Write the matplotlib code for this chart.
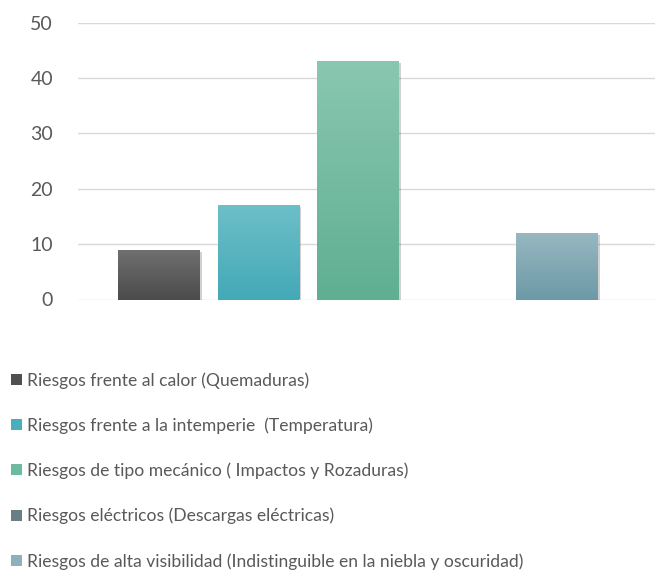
import numpy as np
import matplotlib
matplotlib.use("Agg")
import matplotlib.pyplot as plt
from matplotlib.colors import LinearSegmentedColormap
from matplotlib.patches import Patch
import matplotlib.patheffects as pe

plt.rcParams['font.family'] = ['Lato', 'DejaVu Sans']

labels = [
    "Riesgos frente al calor (Quemaduras)",
    "Riesgos frente a la intemperie  (Temperatura)",
    "Riesgos de tipo mecánico ( Impactos y Rozaduras)",
    "Riesgos eléctricos (Descargas eléctricas)",
    "Riesgos de alta visibilidad (Indistinguible en la niebla y oscuridad)",
]
values = [9, 17, 43, 0, 12]
# top / bottom gradient colours, legend colour
top_colors = ["#707070", "#6dbfc9", "#8ac7b1", "#8a9ca4", "#98b8c1"]
bottom_colors = ["#4c4c4c", "#44a9b7", "#5faf93", "#5f737c", "#6d9aa7"]
legend_colors = ["#505050", "#4aafbd", "#6dbb9f", "#6b7e86", "#8db1bc"]

fig = plt.figure(figsize=(6.64, 5.71), dpi=100)
ax = fig.add_axes([78/664, 1 - 299.5/571, 577/664, 277/571])

x = np.arange(len(values))
bars = ax.bar(x, values, width=0.815, zorder=3)
grad = np.linspace(0, 1, 256).reshape(-1, 1)
for b, c1, c2 in zip(bars, top_colors, bottom_colors):
    if b.get_height() == 0:
        b.set_visible(False)
        continue
    b.set_facecolor(c2)
    b.set_edgecolor("none")
    b.set_path_effects([pe.SimplePatchShadow(offset=(1.5, -1.5), shadow_rgbFace="#000000", alpha=0.18),
                        pe.Normal()])
    cmap = LinearSegmentedColormap.from_list("g", [c2, c1])
    x0, w, h = b.get_x(), b.get_width(), b.get_height()
    im = ax.imshow(grad, cmap=cmap, origin="lower", aspect="auto",
                   extent=[x0, x0 + w, 0, h], zorder=4)
    im.set_clip_path(b)

ax.set_xlim(-0.814, 4.985)
ax.set_ylim(0, 50)
ax.set_yticks([0, 10, 20, 30, 40, 50])
ax.set_xticks([])
ax.grid(axis="y", color="#d9d9d9", linewidth=1, zorder=0)
for s in ax.spines.values():
    s.set_visible(False)
ax.tick_params(axis="y", length=0, pad=18, labelsize=14, labelcolor="#595959")

handles = [Patch(facecolor=c, edgecolor="none") for c in legend_colors]
fig.legend(handles, labels, loc="upper left", bbox_to_anchor=(4/664, 1 - 365/571),
           frameon=False, fontsize=12.6, labelcolor="#595959",
           handlelength=0.6, handleheight=0.6, handletextpad=0.3,
           labelspacing=1.64, borderaxespad=0)

fig.savefig("out.png", dpi=100)
